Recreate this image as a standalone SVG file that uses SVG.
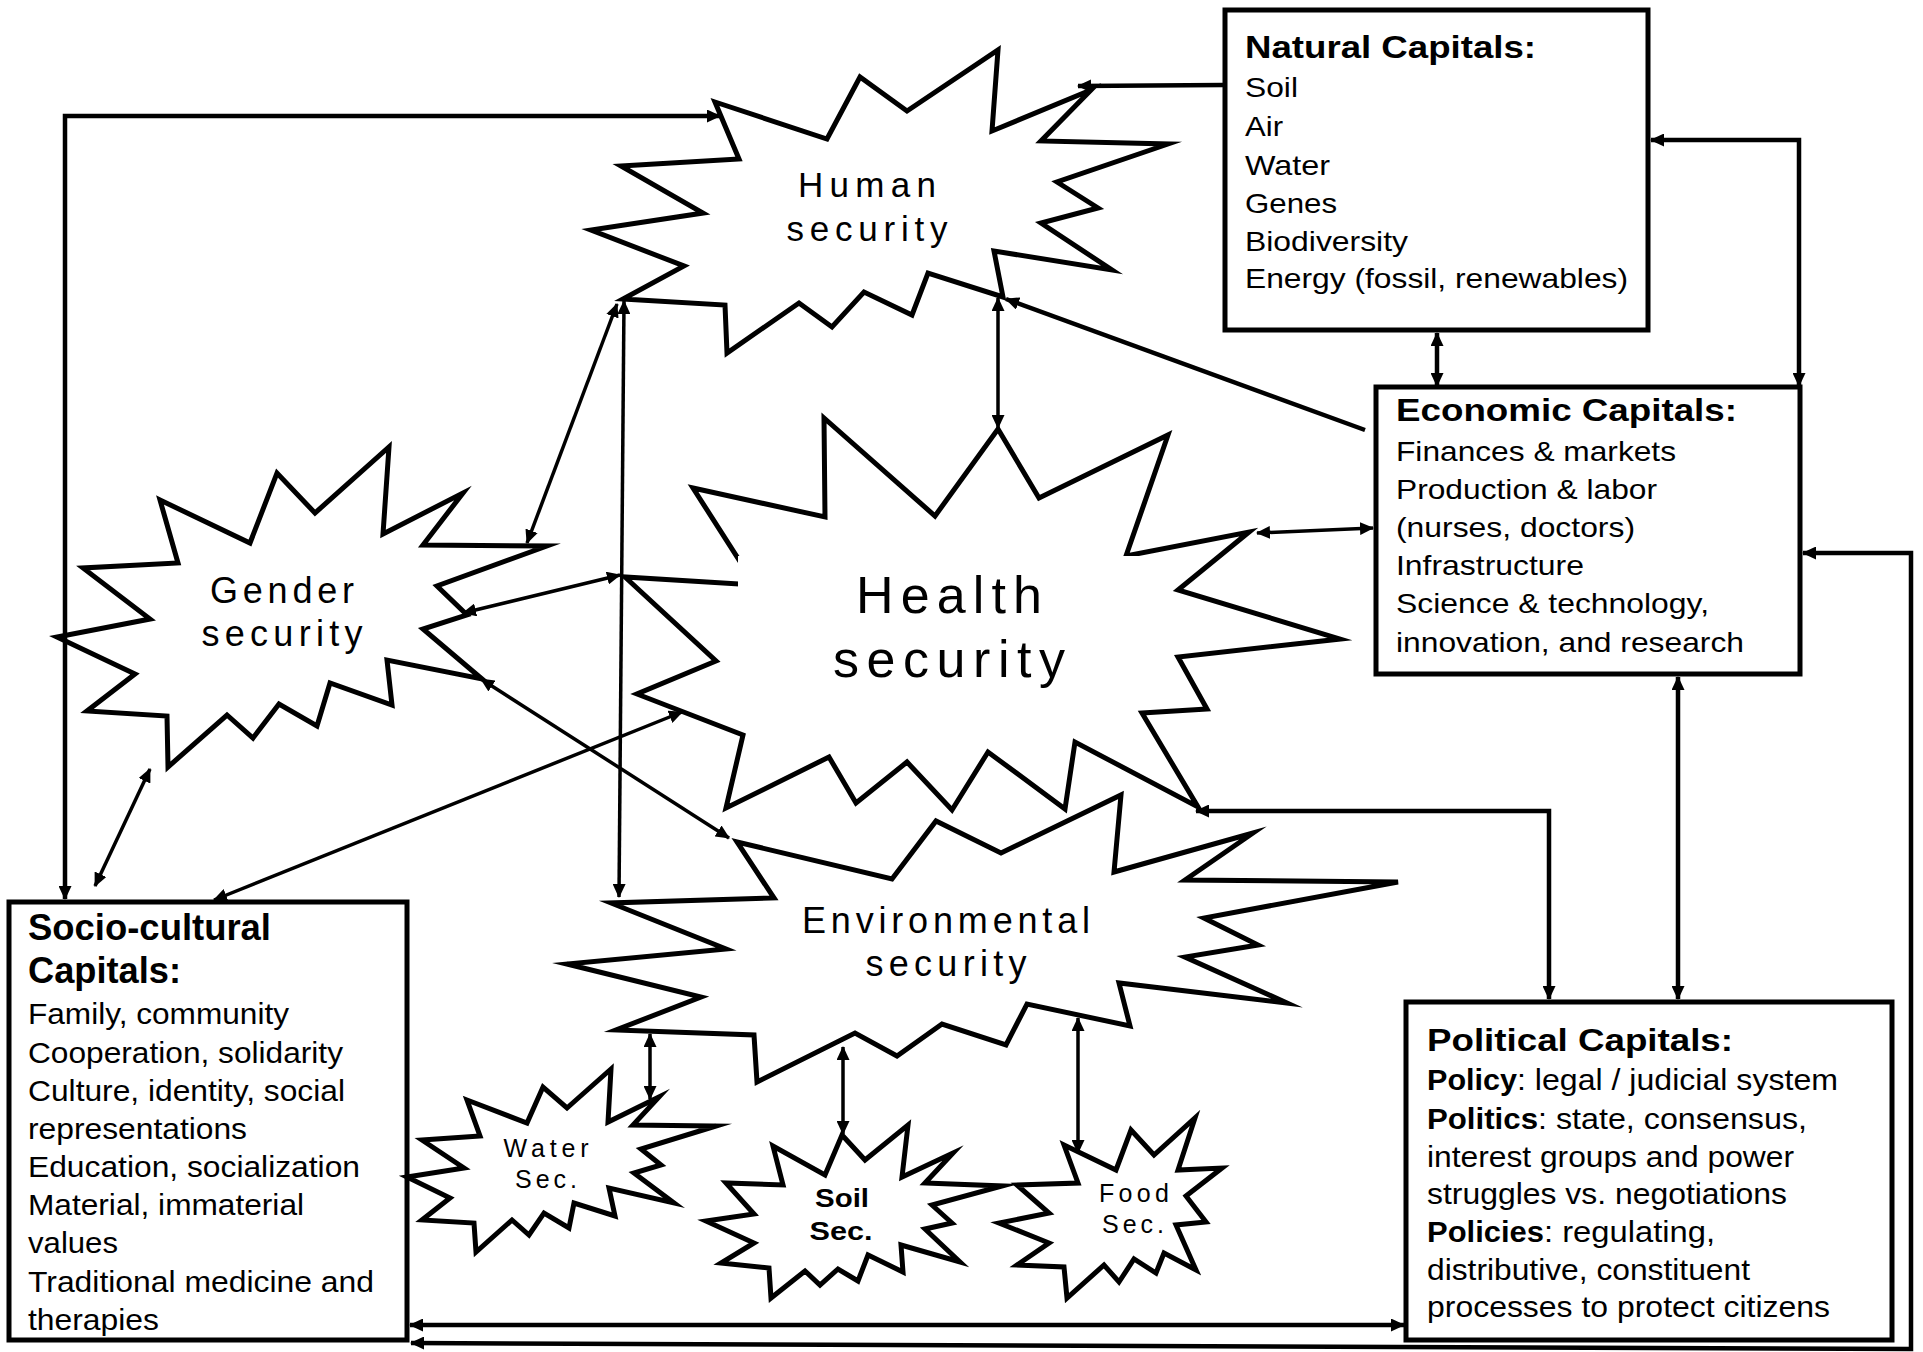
<svg xmlns="http://www.w3.org/2000/svg" width="1923" height="1352" viewBox="0 0 1923 1352">
<style>
  .box{fill:#fff;stroke:#000;stroke-width:5}
  .star{fill:#fff;stroke:#000;stroke-width:5;stroke-linejoin:miter;stroke-miterlimit:8}
  .c{fill:none;stroke:#000;stroke-width:3.5;marker-end:url(#ah)}
  .c2{fill:none;stroke:#000;stroke-width:3.5;marker-start:url(#ah);marker-end:url(#ah)}
  .k{stroke-width:4.5}
  text{font-family:"Liberation Sans",Arial,Helvetica,sans-serif;fill:#000}
  .t{font-size:29px}
  .b{font-weight:bold}
  .lbl{text-anchor:middle}
</style>
<defs>
  <marker id="ah" viewBox="0 0 14 13" refX="13" refY="6.5" markerWidth="14" markerHeight="13" markerUnits="userSpaceOnUse" orient="auto-start-reverse">
    <path d="M0,0 L14,6.5 L0,13 z" fill="#000"/>
  </marker>
</defs>

<!-- capital boxes -->
<g id="natural-capitals">
  <rect class="box" x="1225" y="10" width="423" height="320"/>
  <text class="b" x="1245" y="58" font-size="32" textLength="291" lengthAdjust="spacingAndGlyphs">Natural Capitals:</text>
  <text x="1245" y="97" font-size="28" textLength="53" lengthAdjust="spacingAndGlyphs">Soil</text>
  <text x="1245" y="136" font-size="28" textLength="38" lengthAdjust="spacingAndGlyphs">Air</text>
  <text x="1245" y="175" font-size="28" textLength="85" lengthAdjust="spacingAndGlyphs">Water</text>
  <text x="1245" y="213" font-size="28" textLength="92" lengthAdjust="spacingAndGlyphs">Genes</text>
  <text x="1245" y="251" font-size="28" textLength="163" lengthAdjust="spacingAndGlyphs">Biodiversity</text>
  <text x="1245" y="288" font-size="28" textLength="383" lengthAdjust="spacingAndGlyphs">Energy (fossil, renewables)</text>
</g>

<g id="economic-capitals">
  <rect class="box" x="1376" y="387" width="424" height="287"/>
  <text class="b" x="1396" y="421" font-size="31" textLength="341" lengthAdjust="spacingAndGlyphs">Economic Capitals:</text>
  <text x="1396" y="461" font-size="28" textLength="280" lengthAdjust="spacingAndGlyphs">Finances &amp; markets</text>
  <text x="1396" y="499" font-size="28" textLength="261" lengthAdjust="spacingAndGlyphs">Production &amp; labor</text>
  <text x="1396" y="537" font-size="28" textLength="239" lengthAdjust="spacingAndGlyphs">(nurses, doctors)</text>
  <text x="1396" y="575" font-size="28" textLength="188" lengthAdjust="spacingAndGlyphs">Infrastructure</text>
  <text x="1396" y="613" font-size="28" textLength="313" lengthAdjust="spacingAndGlyphs">Science &amp; technology,</text>
  <text x="1396" y="652" font-size="28" textLength="348" lengthAdjust="spacingAndGlyphs">innovation, and research</text>
</g>

<g id="political-capitals">
  <rect class="box" x="1406" y="1002" width="486" height="338"/>
  <text class="b" x="1427" y="1051" font-size="32" textLength="306" lengthAdjust="spacingAndGlyphs">Political Capitals:</text>
  <text class="t b" x="1427" y="1090" textLength="90" lengthAdjust="spacingAndGlyphs">Policy</text>
  <text class="t" x="1517" y="1090" textLength="321" lengthAdjust="spacingAndGlyphs">: legal / judicial system</text>
  <text class="t b" x="1427" y="1129" textLength="111" lengthAdjust="spacingAndGlyphs">Politics</text>
  <text class="t" x="1538" y="1129" textLength="269" lengthAdjust="spacingAndGlyphs">: state, consensus,</text>
  <text class="t" x="1427" y="1167" textLength="367" lengthAdjust="spacingAndGlyphs">interest groups and power</text>
  <text class="t" x="1427" y="1204" textLength="360" lengthAdjust="spacingAndGlyphs">struggles vs. negotiations</text>
  <text class="t b" x="1427" y="1242" textLength="117" lengthAdjust="spacingAndGlyphs">Policies</text>
  <text class="t" x="1544" y="1242" textLength="171" lengthAdjust="spacingAndGlyphs">: regulating,</text>
  <text class="t" x="1427" y="1280" textLength="323" lengthAdjust="spacingAndGlyphs">distributive, constituent</text>
  <text class="t" x="1427" y="1317" textLength="403" lengthAdjust="spacingAndGlyphs">processes to protect citizens</text>
</g>

<g id="socio-cultural-capitals">
  <rect class="box" x="9" y="902" width="398" height="438"/>
  <text class="b" x="28" y="940" font-size="36" textLength="243" lengthAdjust="spacingAndGlyphs">Socio-cultural</text>
  <text class="b" x="28" y="983" font-size="36" textLength="153" lengthAdjust="spacingAndGlyphs">Capitals:</text>
  <text class="t" x="28" y="1024" textLength="261" lengthAdjust="spacingAndGlyphs">Family, community</text>
  <text class="t" x="28" y="1063" textLength="315" lengthAdjust="spacingAndGlyphs">Cooperation, solidarity</text>
  <text class="t" x="28" y="1101" textLength="317" lengthAdjust="spacingAndGlyphs">Culture, identity, social</text>
  <text class="t" x="28" y="1139" textLength="219" lengthAdjust="spacingAndGlyphs">representations</text>
  <text class="t" x="28" y="1177" textLength="332" lengthAdjust="spacingAndGlyphs">Education, socialization</text>
  <text class="t" x="28" y="1215" textLength="276" lengthAdjust="spacingAndGlyphs">Material, immaterial</text>
  <text class="t" x="28" y="1253" textLength="90" lengthAdjust="spacingAndGlyphs">values</text>
  <text class="t" x="28" y="1292" textLength="346" lengthAdjust="spacingAndGlyphs">Traditional medicine and</text>
  <text class="t" x="28" y="1330" textLength="131" lengthAdjust="spacingAndGlyphs">therapies</text>
</g>

<!-- security starbursts -->
<g id="human-security">
  <polygon class="star" points="715,102 827,139 860,77 907,111 998,50 992,131 1091,90 1041,141 1168,144 1057,182 1098,208 1041,223 1112,270 994,251 1003,297 928,273 912,315 864,292 832,327 799,303 727,353 725,305 623,299 684,266 591,230 703,213 621,166 739,159"/>
  <text class="lbl" x="867" y="197" font-size="35" textLength="138" lengthAdjust="spacing">Human</text>
  <text class="lbl" x="867" y="241" font-size="35" textLength="161" lengthAdjust="spacing">security</text>
</g>

<g id="gender-security">
  <polygon class="star" points="160,500 250,543 277,473 315,513 389,447 383,534 463,493 423,545 547,546 437,586 467,615 423,629 482,679 387,660 392,705 330,683 317,726 279,704 253,738 227,715 168,767 167,716 87,711 135,674 57,637 150,619 83,568 178,563"/>
  <text class="lbl" x="282" y="603" font-size="36" textLength="144" lengthAdjust="spacing">Gender</text>
  <text class="lbl" x="282" y="646" font-size="36" textLength="161" lengthAdjust="spacing">security</text>
</g>

<g id="health-security">
  <polygon class="star" points="693,488 825,517 824,418 935,516 998,429 1039,498 1168,435 1126,556 1249,532 1178,590 1340,639 1178,657 1207,709 1142,713 1198,807 1075,742 1065,809 988,752 952,810 907,762 856,803 829,757 726,808 743,735 637,694 716,661 625,577 755,585"/>
  <rect x="738" y="556" width="414" height="134" fill="#fff"/>
  <text class="lbl" x="949" y="613" font-size="52" textLength="186" lengthAdjust="spacing">Health</text>
  <text class="lbl" x="949" y="677" font-size="52" textLength="232" lengthAdjust="spacing">security</text>
</g>

<g id="environmental-security">
  <polygon class="star" points="737,842 892,879 936,821 1001,853 1121,795 1114,872 1253,833 1185,880 1398,882 1204,918 1258,945 1185,957 1287,1003 1119,983 1130,1026 1027,1004 1006,1045 942,1024 897,1056 855,1033 757,1082 754,1035 616,1030 701,997 567,964 726,949 611,903 774,898"/>
  <text class="lbl" x="946" y="933" font-size="36" textLength="288" lengthAdjust="spacing">Environmental</text>
  <text class="lbl" x="946" y="976" font-size="36" textLength="161" lengthAdjust="spacing">security</text>
</g>

<g id="water-security">
  <polygon class="star" points="467,1100 527,1123 543,1087 567,1108 611,1069 608,1122 659,1097 633,1125 716,1126 641,1149 661,1165 634,1173 674,1203 609,1188 615,1216 574,1203 569,1228 544,1213 529,1235 512,1220 476,1252 474,1223 422,1220 450,1198 407,1177 464,1168 422,1140 480,1136"/>
  <text class="lbl" x="546" y="1157" font-size="25" textLength="85" lengthAdjust="spacing">Water</text>
  <text class="lbl" x="546" y="1188" font-size="25" textLength="62" lengthAdjust="spacing">Sec.</text>
</g>

<g id="soil-security">
  <polygon class="star" points="842,1135 865,1160 908,1125 902,1177 953,1153 925,1183 1002,1186 932,1205 952,1223 925,1229 960,1262 901,1245 903,1272 868,1255 858,1281 838,1269 820,1285 805,1271 771,1298 769,1268 721,1263 754,1243 706,1221 754,1214 726,1183 783,1185 773,1146 825,1175"/>
  <text class="lbl b" x="842" y="1207" font-size="25" textLength="54" lengthAdjust="spacingAndGlyphs">Soil</text>
  <text class="lbl b" x="841" y="1240" font-size="25" textLength="63" lengthAdjust="spacingAndGlyphs">Sec.</text>
</g>

<g id="food-security">
  <polygon class="star" points="1064,1145 1116,1170 1131,1130 1154,1155 1195,1118 1178,1170 1222,1168 1186,1196 1206,1222 1176,1225 1196,1270 1164,1253 1156,1273 1134,1259 1119,1282 1104,1265 1067,1298 1064,1267 1017,1265 1049,1243 999,1223 1049,1213 1017,1185 1078,1183"/>
  <text class="lbl" x="1134" y="1202" font-size="25" textLength="70" lengthAdjust="spacing">Food</text>
  <text class="lbl" x="1133" y="1233" font-size="25" textLength="62" lengthAdjust="spacing">Sec.</text>
</g>

<!-- connectors -->
<g id="connectors">
  <path class="c k" d="M1224,85 L1078,86"/>
  <path class="c2 k" d="M1437,333 L1437,386"/>
  <path class="c2 k" d="M1651,140 H1799 V386"/>
  <path class="c2 k" d="M1803,553 H1911 V1349 L411,1343"/>
  <path class="c2 k" d="M1678,677 V999"/>
  <path class="c2 k" d="M1196,811 H1549 V999"/>
  <path class="c2" d="M1257,533 L1373,528"/>
  <path class="c k" d="M1365,430 L1006,299"/>
  <path class="c2" d="M998,298 V428"/>
  <path class="c2" d="M617,304 L527,543"/>
  <path class="c2" d="M624,301 L619,897"/>
  <path class="c2" d="M463,613 L620,575"/>
  <path class="c2" d="M481,679 L729,838"/>
  <path class="c2" d="M214,900 L682,712"/>
  <path class="c2" d="M95,886 L150,769"/>
  <path class="c2 k" d="M65,899 V116 H720"/>
  <path class="c2" d="M650,1034 V1099"/>
  <path class="c2" d="M843,1047 V1134"/>
  <path class="c2" d="M1078,1018 V1153"/>
  <path class="c2 k" d="M410,1325 H1404"/>
</g>
</svg>
